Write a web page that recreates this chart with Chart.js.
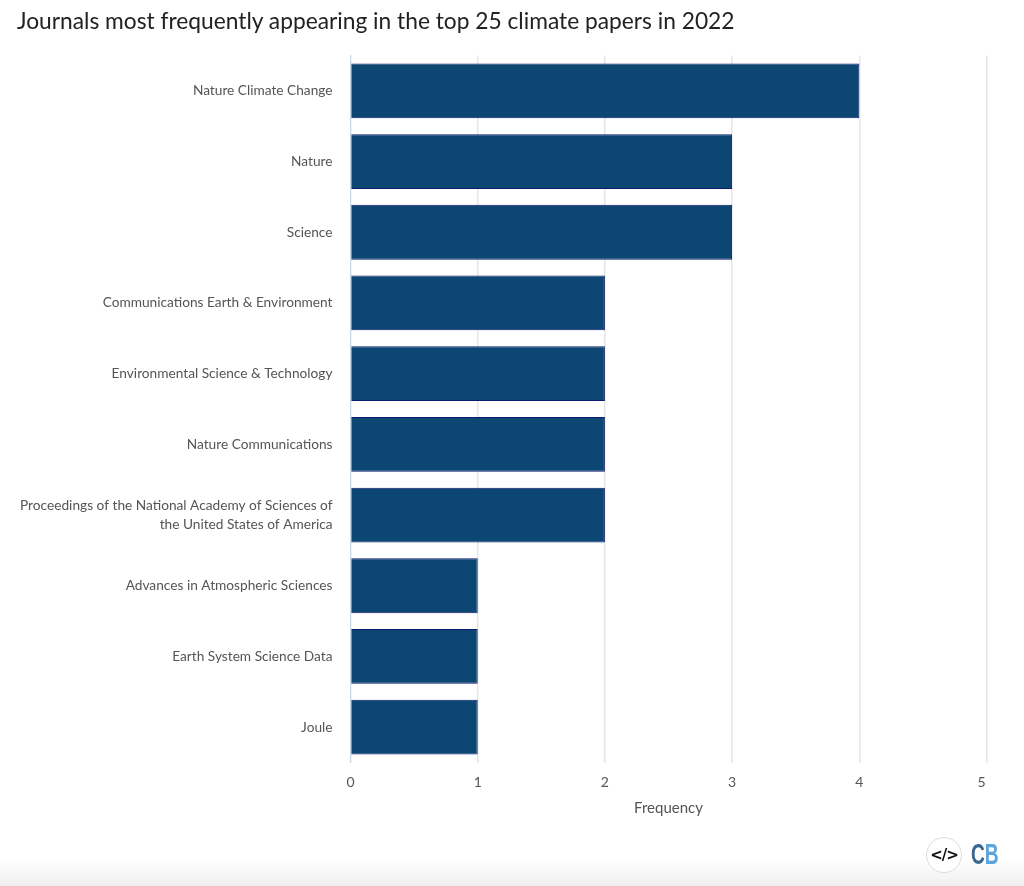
<!DOCTYPE html>
<html lang="en">
<head>
<meta charset="UTF-8" />
<title>Journals most frequently appearing in the top 25 climate papers in 2022</title>
<script src="https://cdnjs.cloudflare.com/ajax/libs/Chart.js/4.4.1/chart.umd.js"></script>
<style>
  html, body { margin: 0; padding: 0; background: #fff; }
  body { width: 1024px; height: 886px; position: relative; overflow: hidden; font-family: Lato, sans-serif; }
  h1 { position: absolute; left: 17px; top: 6px; margin: 0; font-size: 22.76px; line-height: 30px; font-weight: 400; color: #222; white-space: nowrap; z-index: 2; }
  .chart-wrap { position: absolute; left: 0; top: 0; width: 1024px; height: 886px; }
  .fade { position: absolute; left: 0; right: 0; bottom: 0; height: 28px; background: linear-gradient(#fff, #efefef); }
  .embed { position: absolute; left: 926px; top: 837px; width: 34px; height: 34px; border: 1px solid #e0d8d8; border-radius: 50%; background: #fff; text-align: center; font: bold 15px/34px "DejaVu Sans", sans-serif; color: #111; letter-spacing: -1px; }
  .logo { position: absolute; left: 971px; top: 838px; font: bold 29px/32px "Liberation Sans", sans-serif; transform: scaleX(0.66); transform-origin: left center; }
  .logo .c { color: #38668f; }
  .logo .b { color: #5aa5dc; }
</style>
</head>
<body>

<h1>Journals most frequently appearing in the top 25 climate papers in 2022</h1>
<div class="chart-wrap"><canvas id="journalChart" width="1024" height="886"></canvas></div>
<div class="fade"></div>
<div class="embed">&lt;/&gt;</div>
<div class="logo"><span class="c">C</span><span class="b">B</span></div>

<script>
const journals = [
  { name: "Nature Climate Change", count: 4 },
  { name: "Nature", count: 3 },
  { name: "Science", count: 3 },
  { name: "Communications Earth & Environment", count: 2 },
  { name: "Environmental Science & Technology", count: 2 },
  { name: "Nature Communications", count: 2 },
  { name: ["Proceedings of the National Academy of Sciences of", "the United States of America"], count: 2 },
  { name: "Advances in Atmospheric Sciences", count: 1 },
  { name: "Earth System Science Data", count: 1 },
  { name: "Joule", count: 1 },
];

const textColor = "#555";
const fontFamily = "Lato, sans-serif";

// the "5" sits left of its gridline so it doesn't touch the edge
const lastTickLabel = {
  id: "lastTickLabel",
  afterDraw(chart) {
    const x = chart.scales.x;
    const ctx = chart.ctx;
    ctx.save();
    ctx.font = "14px " + fontFamily;
    ctx.fillStyle = textColor;
    ctx.textAlign = "center";
    ctx.textBaseline = "middle";
    ctx.fillText("5", x.getPixelForValue(5) - 5, 782);
    ctx.restore();
  },
};

new Chart(document.getElementById("journalChart"), {
  type: "bar",
  data: {
    labels: journals.map((j) => j.name),
    datasets: [{
      data: journals.map((j) => j.count),
      backgroundColor: "#0c4672",
      borderColor: "#0a1a6e",
      borderWidth: 1,
      barPercentage: 0.775,
      categoryPercentage: 1,
    }],
  },
  options: {
    indexAxis: "y",
    responsive: false,
    animation: false,
    layout: { padding: { top: 55.5, right: 37.5, bottom: 68.5, left: 0 } },
    plugins: { legend: { display: false }, tooltip: { enabled: false }, title: { display: false } },
    scales: {
      x: {
        min: 0,
        max: 5,
        afterFit: (scale) => { scale.height = 55; },
        grid: { color: "#e6e6e6", lineWidth: 1.5, drawTicks: false },
        border: { display: false },
        ticks: {
          stepSize: 1,
          padding: 11.5,
          maxRotation: 0,
          color: textColor,
          font: { family: fontFamily, size: 14 },
          callback: (v) => (v === 5 ? "" : v),
        },
        title: { display: true, text: "Frequency", color: textColor, font: { family: fontFamily, size: 15 }, padding: { top: 6, bottom: 0 } },
      },
      y: {
        afterFit: (scale) => { scale.width = 350.5; },
        grid: { display: false },
        border: { display: true, color: "#ccd6eb", width: 1 },
        ticks: {
          autoSkip: false,
          padding: 10,
          color: textColor,
          font: { family: fontFamily, size: 13.7, lineHeight: 1.35 },
        },
      },
    },
  },
  plugins: [lastTickLabel],
});
</script>

</body>
</html>
